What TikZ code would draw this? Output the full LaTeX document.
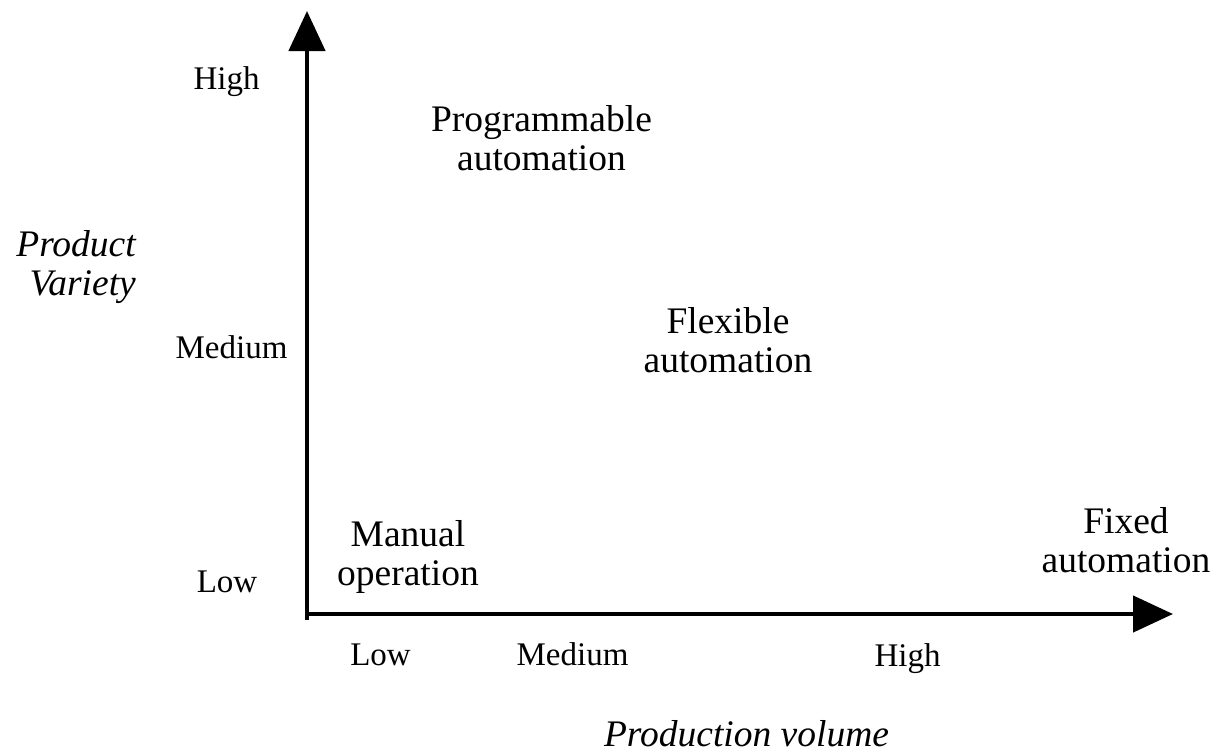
\documentclass[tikz,border=0pt]{standalone}
\usepackage{fontspec}
\setmainfont{Liberation Serif}
\usetikzlibrary{arrows.meta}
\begin{document}
\begin{tikzpicture}[x=1pt,y=-1pt,
  axis/.style={line width=4.5pt,-{Triangle[length=40pt,width=36pt]}},
  ticklbl/.style={font=\fontsize{33}{38}\selectfont,inner sep=0pt,anchor=base},
  region/.style={font=\fontsize{37.5}{38.5}\selectfont,inner sep=0pt,align=center,anchor=base},
  axtitle/.style={font=\fontsize{37.5}{38.5}\selectfont\itshape,inner sep=0pt,anchor=base}]
\useasboundingbox (0,0) rectangle (1222,753);
\coordinate (yo) at (307,620);
\coordinate (ytip) at (307,11);
\coordinate (xo) at (305,614);
\coordinate (xtip) at (1173,614);
\draw[axis] (yo) -- (ytip);
\draw[axis] (xo) -- (xtip);
% y tick labels
\node[ticklbl] (yhigh) at (226.5,89) {High};
\node[ticklbl] (ymed) at (231.5,358) {Medium};
\node[ticklbl] (ylow) at (227,592) {Low};
% x tick labels
\node[ticklbl] (xlow) at (380.5,665) {Low};
\node[ticklbl] (xmed) at (572.5,665) {Medium};
\node[ticklbl] (xhigh) at (907.5,666) {High};
% axis titles
\node[axtitle,align=right,anchor=base east] (ytitle) at (136,295) {Product\\Variety};
\node[axtitle] (xtitle) at (746.5,746) {Production volume};
% regions
\node[region] (prog) at (541.5,170) {Programmable\\automation};
\node[region] (flex) at (728,372) {Flexible\\automation};
\node[region] (manual) at (408,585) {Manual\\operation};
\node[region] (fixed) at (1126,572) {Fixed\\automation};
\end{tikzpicture}
\end{document}
